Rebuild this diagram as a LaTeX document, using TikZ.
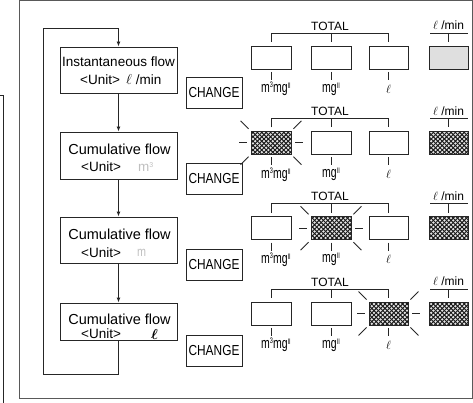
\documentclass[tikz,border=0pt]{standalone}
\usepackage{amsmath}
\usepackage{fontspec}
\setmainfont{Liberation Sans}
\usetikzlibrary{arrows.meta,patterns}
\pgfdeclarepatternformonly{dispx}{\pgfpoint{-1pt}{-1pt}}{\pgfpoint{5.4pt}{5.4pt}}{\pgfpoint{4.4pt}{4.4pt}}{%
  \pgfsetlinewidth{0.95pt}%
  \pgfpathmoveto{\pgfpoint{0pt}{0pt}}\pgfpathlineto{\pgfpoint{4.4pt}{4.4pt}}%
  \pgfpathmoveto{\pgfpoint{0pt}{4.4pt}}\pgfpathlineto{\pgfpoint{4.4pt}{0pt}}%
  \pgfusepath{stroke}}
\newcommand\flashrays[1]{%
  \draw[ln] ([xshift=-4pt]#1.west) -- ++(-8,0);
  \draw[ln] ([xshift=4pt]#1.east) -- ++(8,0);
  \draw[ln] ([shift={(-2,-2)}]#1.north west) -- ++(-8,-8);
  \draw[ln] ([shift={(2,-2)}]#1.north east) -- ++(8,-8);
  \draw[ln] ([shift={(-2,2)}]#1.south west) -- ++(-8,8);
  \draw[ln] ([shift={(2,2)}]#1.south east) -- ++(8,8);}
\newcommand\mthreelbl{\scalebox{0.7}[1]{\fontsize{15}{15}\selectfont m\raisebox{5pt}{\fontsize{8}{8}\selectfont 3}mg\raisebox{4pt}{\fontsize{8}{8}\selectfont II}}}
\newcommand\mglbl{\scalebox{0.7}[1]{\fontsize{15}{15}\selectfont mg\raisebox{4pt}{\fontsize{8}{8}\selectfont II}}}
\begin{document}
\begin{tikzpicture}[x=1pt,y=-1pt,
  ln/.style={draw=black!85,line width=0.9pt},
  frame/.style={draw=black!65,line width=1pt},
  fbox/.style={ln,rectangle,minimum width=117pt,inner sep=0pt},
  ftxt/.style={inner sep=0pt,font=\fontsize{14.5}{14.5}\selectfont},
  utxt/.style={inner sep=0pt,anchor=west,font=\fontsize{13.5}{13.5}\selectfont},
  chg/.style={ln,rectangle,minimum width=56pt,minimum height=31pt,inner sep=0pt},
  dbox/.style={ln,rectangle,minimum width=40pt,minimum height=23pt,inner sep=0pt},
  hatch/.style={preaction={fill=gray!20},pattern=dispx,pattern color=black!90},
  lbl/.style={inner sep=0pt,font=\fontsize{12}{12}\selectfont},
  arr/.style={ln,-{Latex[length=5pt,width=4pt]}}]
\useasboundingbox (0,0) rectangle (473,403);
\draw[frame] (19,1) rectangle (472,398);
\draw[ln] (0,95) -- (3,95) -- (3,403);

% flow boxes
\node[fbox,minimum height=46pt] (f1) at (118.5,70) {};
\node[fbox,minimum height=47pt] (f2) at (118.5,155.5) {};
\node[fbox,minimum height=46pt] (f3) at (118.5,240) {};
\node[fbox,minimum height=37pt] (f4) at (118.5,321.5) {};

\node[inner sep=0pt,font=\fontsize{13.5}{13.5}\selectfont] (t1) at (118.5,62) {Instantaneous flow};
\node[utxt] (u1) at (80,80) {<Unit>};
\node[utxt] (v1) at (126,80) {$\ell$ /min};

\node[ftxt] (t2) at (119.5,149) {Cumulative flow};
\node[utxt] (u2) at (81,167) {<Unit>};
\node[utxt,text=black!25] (v2) at (138,167) {m\raisebox{4pt}{\fontsize{7}{7}\selectfont 3}};

\node[ftxt] (t3) at (119.5,234) {Cumulative flow};
\node[utxt] (u3) at (81,252.5) {<Unit>};
\node[utxt,text=black!25] (v3) at (137,252.5) {\scalebox{0.8}[1]{m}};

\node[ftxt] (t4) at (119.5,319.5) {Cumulative flow};
\node[utxt] (u4) at (81,334) {<Unit>};
\node[utxt] (v4) at (151,334) {$\boldsymbol{\ell}$};

\draw[arr] (f1) -- (f2);
\draw[arr] (f2) -- (f3);
\draw[arr] (f3) -- (f4);
\coordinate (lb) at (43,374);
\coordinate (lt) at (43,28);
\draw[arr] (f4.south) -- (f4.south |- lb) -- (lb) -- (lt) -- (f1.north |- lt) -- (f1.north);

% CHANGE boxes
\foreach \h/\yc in {1/92.5,2/178.5,3/264.5,4/351}{
  \node[chg] (c\h) at (214,\yc) {\scalebox{0.82}[1]{\fontsize{14.5}{14.5}\selectfont CHANGE}};
}

% display rows
\foreach \h in {0,1,2,3}{
  \pgfmathsetmacro\dy{85.33*\h}
  \node[lbl] (tot\h) at (330,{26+\dy}) {TOTAL};
  \node[lbl] (lpm\h) at (448.5,{25.5+\dy}) {$\ell$ /min};
  \draw[ln] (430,{33+\dy}) -- (468,{33+\dy});
  \draw[ln] (448.5,{33+\dy}) -- (448.5,{42+\dy});
  \draw[ln] (271,{42+\dy}) -- (271,{33+\dy}) -- (388.5,{33+\dy}) -- (388.5,{42+\dy});
  \draw[ln] (331,{33+\dy}) -- (331,{42+\dy});
  \draw[ln] (271,{72+\dy}) -- (271,{80+\dy});
  \draw[ln] (331,{72+\dy}) -- (331,{80+\dy});
  \draw[ln] (388.5,{72+\dy}) -- (388.5,{80+\dy});
  \node[lbl] (la\h) at (276,{89+\dy}) {\mthreelbl};
  \node[lbl] (lb\h) at (331,{89+\dy}) {\mglbl};
  \node[lbl] (lc\h) at (388.5,{89+\dy}) {$\ell$};
}

% row 1
\node[dbox] (a1) at (271,57.5) {};
\node[dbox] (b1) at (331,57.5) {};
\node[dbox,minimum width=39pt] (k1) at (388.5,57.5) {};
\node[dbox,minimum width=39pt,fill=gray!25] (d1) at (448.5,57.5) {};
% row 2
\node[dbox,hatch] (a2) at (271,142.8) {};
\node[dbox] (b2) at (331,142.8) {};
\node[dbox,minimum width=39pt] (k2) at (388.5,142.8) {};
\node[dbox,minimum width=39pt,hatch] (d2) at (448.5,142.8) {};
\flashrays{a2}
% row 3
\node[dbox] (a3) at (271,228.2) {};
\node[dbox,hatch] (b3) at (331,228.2) {};
\node[dbox,minimum width=39pt] (k3) at (388.5,228.2) {};
\node[dbox,minimum width=39pt,hatch] (d3) at (448.5,228.2) {};
\flashrays{b3}
% row 4
\node[dbox] (a4) at (271,313.5) {};
\node[dbox] (b4) at (331,313.5) {};
\node[dbox,minimum width=39pt,hatch] (k4) at (388.5,313.5) {};
\node[dbox,minimum width=39pt,hatch] (d4) at (448.5,313.5) {};
\flashrays{k4}
\end{tikzpicture}
\end{document}
